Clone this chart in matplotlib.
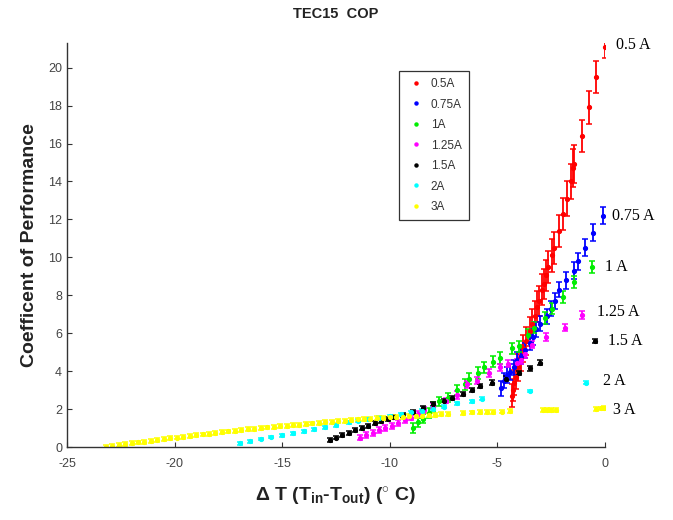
import matplotlib
matplotlib.use("Agg")
import matplotlib.pyplot as plt

plt.rcParams['font.family'] = ['Liberation Sans', 'DejaVu Sans']
plt.rcParams['mathtext.fontset'] = 'custom'
plt.rcParams['mathtext.rm'] = 'Liberation Sans:bold'
plt.rcParams['mathtext.it'] = 'Liberation Sans:bold'
plt.rcParams['mathtext.bf'] = 'Liberation Sans:bold'
plt.rcParams['mathtext.default'] = 'rm'
plt.rcParams['axes.unicode_minus'] = False

# ---- data ----
currentLabels = ["0.5A", "0.75A", "1A", "1.25A", "1.5A", "2A", "3A"]
sideLabels = ["0.5 A", "0.75 A", "1 A", "1.25 A", "1.5 A", "2 A", "3 A"]
colors = ["#ff0000", "#0000ff", "#00ee00", "#ff00ff", "#000000", "#00ffff", "#ffff00"]

dT_05 = [-4.32, -4.28, -4.23, -4.15, -4.04, -3.92, -3.8, -3.65, -3.5, -3.37, -3.25, -3.15, -3.07,
         -2.95, -2.83, -2.72, -2.65, -2.45, -2.35, -2.14, -1.95, -1.77, -1.58, -1.5, -1.44, -1.07,
         -0.74, -0.42, 0.0]
cop_05 = [2.7, 3.0, 3.4, 3.7, 4.2, 4.7, 5.2, 5.6, 6.1, 6.5, 6.9, 7.4, 7.7,
          8.3, 8.6, 9.05, 9.5, 10.1, 10.5, 11.4, 12.3, 13.1, 14.0, 14.7, 14.9, 16.4,
          17.9, 19.5, 21.1]
err_05 = [0.6, 0.6, 0.65, 0.65, 0.7, 0.7, 0.7, 0.75, 0.75, 0.75, 0.8, 0.8, 0.8,
          0.8, 0.8, 0.8, 0.85, 0.85, 0.85, 0.85, 0.85, 0.9, 0.9, 1.0, 1.0, 0.85,
          0.85, 0.85, 0.6]

dT_075 = [-4.83, -4.7, -4.55, -4.4, -4.25, -4.1, -3.9, -3.7, -3.5, -3.35, -3.2, -3.0, -2.7,
          -2.5, -2.32, -2.14, -1.8, -1.44, -1.25, -0.93, -0.55, -0.1]
cop_075 = [3.1, 3.5, 3.8, 3.95, 4.2, 4.6, 4.8, 5.1, 5.5, 5.8, 6.2, 6.5, 6.9,
           7.3, 7.7, 8.3, 8.8, 9.3, 9.8, 10.5, 11.3, 12.2]
err_075 = [0.4, 0.4, 0.4, 0.4, 0.4, 0.4, 0.4, 0.4, 0.4, 0.4, 0.4, 0.4, 0.4,
           0.4, 0.4, 0.4, 0.45, 0.45, 0.45, 0.45, 0.45, 0.45]

dT_1 = [-8.9, -8.7, -8.45, -8.2, -8.0, -7.7, -7.3, -6.9, -6.5, -6.3, -5.9, -5.6, -5.2,
        -4.9, -4.3, -4.0, -3.6, -3.3, -2.8, -2.46, -1.95, -1.44, -0.6]
cop_1 = [1.0, 1.3, 1.5, 1.8, 2.1, 2.4, 2.6, 3.0, 3.3, 3.6, 3.9, 4.2, 4.5,
         4.7, 5.2, 5.3, 5.9, 6.3, 6.8, 7.3, 7.9, 8.7, 9.5]
err_1 = [0.25, 0.25, 0.25, 0.25, 0.25, 0.25, 0.25, 0.25, 0.3, 0.3, 0.3, 0.3, 0.3,
         0.3, 0.3, 0.3, 0.3, 0.3, 0.3, 0.3, 0.3, 0.3, 0.3]

dT_125 = [-11.4, -11.1, -10.8, -10.5, -10.2, -9.9, -9.6, -9.3, -9.0, -8.7, -8.4, -8.0, -7.4,
          -6.9, -6.4, -5.95, -5.4, -4.9, -4.5, -4.1, -3.9, -3.7, -3.4, -2.74, -1.86, -1.07]
cop_125 = [0.5, 0.62, 0.75, 0.88, 1.0, 1.12, 1.25, 1.4, 1.55, 1.75, 1.95, 2.15, 2.45,
           2.75, 3.3, 3.5, 3.9, 4.2, 4.4, 4.45, 4.6, 4.9, 5.4, 5.8, 6.3, 6.95]
err_125 = [0.15] * 13 + [0.2] * 13

dT_15 = [-12.8, -12.5, -12.2, -11.9, -11.6, -11.3, -11.0, -10.7, -10.4, -10.1, -9.85, -9.4,
         -8.9, -8.45, -8.0, -7.5, -7.1, -6.6, -6.2, -5.8, -5.25, -4.6, -4.0, -3.5, -3.0, -0.46]
cop_15 = [0.37, 0.5, 0.62, 0.75, 0.88, 1.0, 1.12, 1.25, 1.36, 1.48, 1.58, 1.7,
          1.85, 2.05, 2.25, 2.45, 2.6, 2.8, 3.0, 3.2, 3.4, 3.6, 3.9, 4.15, 4.45, 5.6]
err_15 = [0.1] * 20 + [0.12] * 6

dT_2 = [-16.95, -16.5, -16.0, -15.5, -15.0, -14.5, -14.0, -13.5, -13.0, -12.5, -11.9, -11.5,
        -11.0, -10.5, -10.0, -9.5, -9.0, -8.5, -8.0, -7.5, -6.9, -6.2, -5.7, -3.5, -0.9]
cop_2 = [0.2, 0.3, 0.42, 0.52, 0.62, 0.72, 0.82, 0.93, 1.04, 1.15, 1.3, 1.38,
         1.46, 1.55, 1.62, 1.72, 1.82, 1.92, 2.02, 2.12, 2.3, 2.4, 2.55, 2.95, 3.4]
err_2 = [0.07] * 25

dT_3 = [-23.2, -22.9, -22.6, -22.3, -22.0, -21.7, -21.4, -21.1, -20.8, -20.5, -20.2, -19.9,
        -19.6, -19.3, -19.0, -18.7, -18.4, -18.1, -17.8, -17.5, -17.2, -16.9, -16.6, -16.3,
        -16.0, -15.7, -15.4, -15.1, -14.8, -14.5, -14.2, -13.9, -13.6, -13.3, -13.0, -12.7,
        -12.4, -12.1, -11.8, -11.5, -11.2, -10.9, -10.6, -10.3, -10.0, -9.7, -9.4, -9.1,
        -8.8, -8.5, -8.2, -7.9, -7.6, -7.3, -6.6, -6.2, -5.8, -5.5, -5.2, -4.8, -4.4,
        -2.9, -2.7, -2.5, -2.3, -0.4, -0.2, -0.05]
cop_3 = [0.0, 0.06, 0.11, 0.16, 0.2, 0.24, 0.28, 0.32, 0.36, 0.41, 0.46, 0.5,
         0.54, 0.58, 0.62, 0.66, 0.7, 0.74, 0.78, 0.82, 0.86, 0.89, 0.93, 0.96,
         1.0, 1.03, 1.06, 1.09, 1.12, 1.15, 1.18, 1.21, 1.24, 1.27, 1.3, 1.33,
         1.36, 1.39, 1.42, 1.45, 1.48, 1.5, 1.52, 1.54, 1.56, 1.58, 1.6, 1.62,
         1.64, 1.66, 1.68, 1.7, 1.72, 1.75, 1.8, 1.82, 1.84, 1.85, 1.86, 1.87, 1.88,
         1.93, 1.94, 1.95, 1.95, 2.02, 2.03, 2.05]
err_3 = [0.1] * 68

seriesX = [dT_05, dT_075, dT_1, dT_125, dT_15, dT_2, dT_3]
seriesY = [cop_05, cop_075, cop_1, cop_125, cop_15, cop_2, cop_3]
seriesErr = [err_05, err_075, err_1, err_125, err_15, err_2, err_3]

# side label positions (data coords, right of the last point)
sideX = [0.5, 0.33, 0.0, -0.37, 0.14, -0.1, 0.37]
sideY = [21.2, 12.2, 9.5, 7.1, 5.6, 3.5, 1.95]

xTicks = [-25, -20, -15, -10, -5, 0]
yTicks = [0, 2, 4, 6, 8, 10, 12, 14, 16, 18, 20]

# ---- figure ----
fig = plt.figure(figsize=(6.73, 5.2), dpi=100)
ax = fig.add_axes([67 / 673, 1 - 447 / 520, 538 / 673, 404 / 520])

handles = []
for xs, ys, es, c, lab in zip(seriesX, seriesY, seriesErr, colors, currentLabels):
    cont = ax.errorbar(xs, ys, yerr=es, fmt='.', color=c, ecolor=c, markersize=5.5,
                       elinewidth=1.3, capsize=2, capthick=1.1, label=lab)
    handles.append(cont[0])

ax.set_xlim(-25, 0)
ax.set_ylim(0, 21.3)
ax.set_xticks(xTicks)
ax.set_yticks(yTicks)
ax.tick_params(direction='in', length=3.5, width=0.8, colors='#333333', labelsize=9,
               labelcolor='#444444')
ax.tick_params(axis='x', pad=8)
ax.spines['top'].set_visible(False)
ax.spines['right'].set_visible(False)
for s in ['left', 'bottom']:
    ax.spines[s].set_color('#333333')
    ax.spines[s].set_linewidth(1.0)

for x, y, t in zip(sideX, sideY, sideLabels):
    ax.text(x, y, t, family='Liberation Serif', fontsize=11.5, ha='left', va='center',
            clip_on=False)

leg = fig.legend(handles, currentLabels, loc='upper left', bbox_to_anchor=(399 / 673, 1 - 71 / 520),
                 fontsize=8.5, frameon=True, fancybox=False, framealpha=1, edgecolor='#333333',
                 labelspacing=0.72, handlelength=1.6, handletextpad=0.5, borderpad=0.6,
                 borderaxespad=0, markerscale=0.8)
leg.get_frame().set_linewidth(0.9)
for t in leg.get_texts():
    t.set_color('#333333')

fig.text(336 / 673, 1 - 14 / 520, "TEC15  COP", ha='center', va='center', fontsize=10.5,
         fontweight='bold', color='#222222')
fig.text(30 / 673, 1 - 245 / 520, "Coefficent of Performance", ha='center', va='center',
         rotation=90, fontsize=14, fontweight='bold', color='#222222')
fig.text(336 / 673, 1 - 497 / 520, "Δ T (T$_{in}$-T$_{out}$) ($^{\\circ}$ C)", ha='center',
         va='center', fontsize=14, fontweight='bold', color='#222222')

fig.savefig("out.png", dpi=100)
